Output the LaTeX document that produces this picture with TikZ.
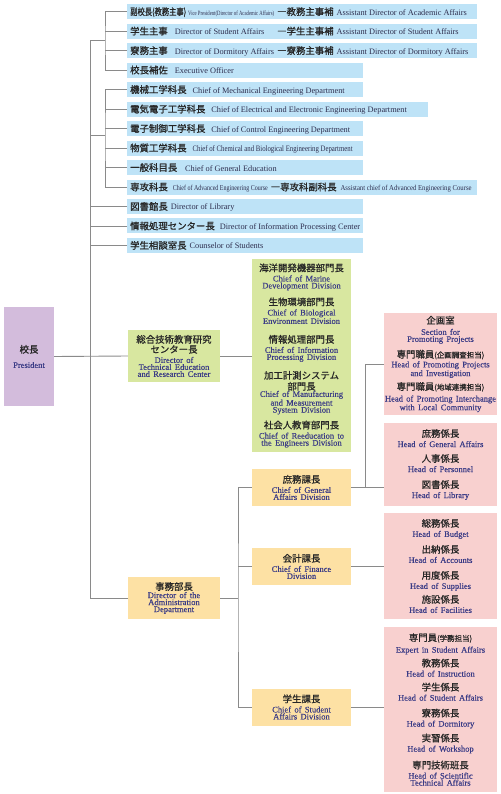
\documentclass[tikz,border=0pt]{standalone}
\usepackage{fontspec}
\setmainfont{Liberation Serif}
\newfontfamily\cjk{Noto Sans CJK JP}[FakeBold=0.9]
\newfontfamily\enbox{Liberation Serif}[FakeBold=0.35]
\usetikzlibrary{positioning}

\definecolor{rowblue}{HTML}{BEE3F7}
\definecolor{techgreen}{HTML}{D8E7A0}
\definecolor{admorange}{HTML}{FDE1A4}
\definecolor{secpink}{HTML}{F8D0CF}
\definecolor{prespurple}{HTML}{D3BCDC}
\definecolor{entext}{HTML}{3B3C86}
\definecolor{rowtext}{HTML}{2E2E4E}
\definecolor{linegray}{HTML}{8A8A8A}

\setlength\parindent{0pt}
\setlength\parskip{0pt}
\lineskiplimit=-100pt

% lines inside the boxes
\newcommand\ja[2][15]{{\fontsize{9.4}{#1}\selectfont\cjk\color{black!85} #2\par}}
\newcommand\en[2][3]{{\enbox\fontsize{8.5}{7}\selectfont\vspace{#1pt}\leavevmode\color{entext}#2\par}}
% parts of the blue rows
\newcommand\rj[1]{{\fontsize{9.4}{10}\selectfont\cjk\color{black!85}#1}}
\newcommand\re[1]{{\fontsize{8.3}{10}\selectfont\color{rowtext}#1}}
\newcommand\sq[2]{\resizebox{#1}{\height}{#2}}
\newcommand\sm[1]{{\fontsize{7.5}{8}\selectfont #1}}

\begin{document}
\begin{tikzpicture}[x=1pt, y=-1pt,
  rowbox/.style={fill=rowblue, inner xsep=3pt, inner ysep=0pt, minimum height=15pt,
    text height=9pt, text depth=2pt,
    execute at begin node={\hbox to #1\bgroup}, execute at end node={\hfil\egroup}},
  nextrow/.style={below right=4.08pt and 0pt of #1.south west},
  box/.style={inner sep=0pt, align=center},
  presbox/.style={box, fill=prespurple, text width=50pt, minimum height=99pt},
  techbox/.style={box, fill=techgreen, text width=#1},
  admbox/.style={box, fill=admorange, text width=#1},
  secbox/.style={box, fill=secpink, text width=113pt, minimum height=#1},
  conn/.style={draw=linegray, line width=0.9pt}
]
  \useasboundingbox (0,0) rectangle (500,794);

  \node[rowbox=344pt, anchor=north west] (r1) at (127,4)
    {\makebox[147pt][l]{\rj{\sq{56pt}{副校長(教務主事)}}\hspace{2pt}\re{\sq{86pt}{\fontsize{6.5}{7}\selectfont Vice President(Director of Academic Affairs)}}}\rj{―教務主事補}\hspace{3pt}\re{Assistant Director of Academic Affairs}};
  \node[rowbox=344pt, nextrow=r1] (r2)
    {\makebox[147pt][l]{\rj{学生主事}\hspace{7pt}\re{Director of Student Affairs}}\rj{―学生主事補}\hspace{3pt}\re{Assistant Director of Student Affairs}};
  \node[rowbox=344pt, nextrow=r2] (r3)
    {\makebox[147pt][l]{\rj{寮務主事}\hspace{7pt}\re{Director of Dormitory Affairs}}\rj{―寮務主事補}\hspace{3pt}\re{Assistant Director of Dormitory Affairs}};
  \node[rowbox=230pt, nextrow=r3] (r4) {\rj{校長補佐}\hspace{7pt}\re{Executive Officer}};
  \node[rowbox=230pt, nextrow=r4] (r5) {\rj{機械工学科長}\hspace{6pt}\re{Chief of Mechanical Engineering Department}};
  \node[rowbox=295pt, nextrow=r5] (r6) {\rj{電気電子工学科長}\hspace{6pt}\re{Chief of Electrical and Electronic Engineering Department}};
  \node[rowbox=230pt, nextrow=r6] (r7) {\rj{電子制御工学科長}\hspace{6pt}\re{Chief of Control Engineering Department}};
  \node[rowbox=230pt, nextrow=r7] (r8) {\rj{物質工学科長}\hspace{6pt}\re{\sq{160pt}{Chief of Chemical and Biological Engineering Department}}};
  \node[rowbox=230pt, nextrow=r8] (r9) {\rj{一般科目長}\hspace{8pt}\re{Chief of General Education}};
  \node[rowbox=344pt, nextrow=r9] (r10)
    {\rj{専攻科長}\hspace{5pt}\re{\sq{95pt}{\fontsize{7.5}{8}\selectfont Chief of Advanced Engineering Course}}\hspace{3pt}\rj{―専攻科副科長}\hspace{4pt}\re{\sq{131pt}{\fontsize{7.5}{8}\selectfont Assistant chief of Advanced Engineering Course}}};
  \node[rowbox=230pt, nextrow=r10] (r11) {\rj{図書館長}\hspace{3pt}\re{Director of Library}};
  \node[rowbox=230pt, nextrow=r11] (r12) {\rj{情報処理センター長}\hspace{5pt}\re{Director of Information Processing Center}};
  \node[rowbox=230pt, nextrow=r12] (r13) {\rj{学生相談室長}\hspace{3pt}\re{Counselor of Students}};

  \node[presbox] (pres) at (29,356.5) {\ja{校長}\en[8]{President}};

  \node[techbox=92pt, minimum height=52pt] (tech) at (174,356)
    {\ja{総合技術教育研究}\ja[10]{センター長}\en{Director of\par Technical Education\par and Research Center}};
  \node[techbox=99pt, minimum height=193pt] (grn) at (301.5,355.5)
    {\ja{海洋開発機器部門長}\en{Chief of Marine\par Development Division}
     \ja[17]{生物環境部門長}\en{Chief of Biological\par Environment Division}
     \ja[19]{情報処理部門長}\en{Chief of Information\par Processing Division}
     \ja[19]{加工計測システム}\ja[11]{部門長}\en[0]{Chief of Manufacturing\par and Measurement\par System Division}
     \ja[16]{社会人教育部門長}\en{Chief of Reeducation to\par the Engineers Division}};

  \node[admbox=92pt, minimum height=42pt] (adm) at (174,598)
    {\ja{事務部長}\en[1]{Director of the\par Administration\par Department}};
  \node[admbox=99pt, minimum height=37pt] (gen) at (301.5,487.5)
    {\ja{庶務課長}\en{Chief of General\par Affairs Division}};
  \node[admbox=99pt, minimum height=37pt] (fin) at (301.5,566.5)
    {\ja{会計課長}\en{Chief of Finance\par Division}};
  \node[admbox=99pt, minimum height=37pt] (stu) at (301.5,707)
    {\ja{学生課長}\en{Chief of Student\par Affairs Division}};

  \node[secbox=102pt] (p1) at (440.5,364)
    {\ja{企画室}\en[4]{Section for\par Promoting Projects}
     \ja[16]{専門職員\sm{(企画調査担当)}}\en[1]{Head of Promoting Projects\par and Investigation}
     \ja[14]{専門職員\sm{(地域連携担当)}}\en{Head of Promoting Interchange\par with Local Community}};
  \node[secbox=83pt] (p2) at (440.5,464.5)
    {\ja{庶務係長}\en{Head of General Affairs}\ja{人事係長}\en{Head of Personnel}\ja[16]{図書係長}\en{Head of Library}};
  \node[secbox=106pt] (p3) at (440.5,566)
    {\ja{総務係長}\en{Head of Budget}\ja[16]{出納係長}\en{Head of Accounts}\ja[16]{用度係長}\en{Head of Supplies}\ja[14]{施設係長}\en{Head of Facilities}};
  \node[secbox=165pt] (p4) at (440.5,709.5)
    {\ja{専門員\sm{(学務担当)}}\en{Expert in Student Affairs}\ja[14]{教務係長}\en{Head of Instruction}
     \ja[14]{学生係長}\en{Head of Student Affairs}\ja[16]{寮務係長}\en{Head of Dormitory}
     \ja{実習係長}\en{Head of Workshop}\ja[17]{専門技術班長}\en{Head of Scientific\par Technical Affairs}};

  \coordinate (b1) at (105,40);
  \coordinate (b2) at (105,135.5);
  \coordinate (trk) at (90,40);
  \coordinate (ab) at (238,598);
  \coordinate (pb) at (365,487.5);

  \draw[conn] (r1.west) -| (b1) |- (r4.west);
  \draw[conn] (r2.west) -- (r2.west -| b1);
  \draw[conn] (r3.west) -- (r3.west -| b1);
  \draw[conn] (r5.west) -| (b2) |- (r10.west);
  \foreach \r in {6,...,9}
    \draw[conn] (r\r.west) -- (r\r.west -| b2);
  \draw[conn] (b1) -- (trk) -- (trk |- adm.west) -- (adm.west);
  \draw[conn] (b2) -- (b2 -| trk);
  \foreach \r in {11,12,13}
    \draw[conn] (r\r.west) -- (r\r.west -| trk);
  \draw[conn] (pres.east) -- (tech.west);
  \draw[conn] (tech.east) -- (tech.east -| grn.west);
  \draw[conn] (adm.east) -- (ab);
  \draw[conn] (gen.west) -| (ab) |- (stu.west);
  \draw[conn] (fin.west) -- (fin.west -| ab);
  \draw[conn] (gen.east) -- (gen.east -| p2.west);
  \draw[conn] (pb) |- (p1.west);
  \draw[conn] (fin.east) -- (fin.east -| p3.west);
  \draw[conn] (stu.east) -- (stu.east -| p4.west);
\end{tikzpicture}
\end{document}
